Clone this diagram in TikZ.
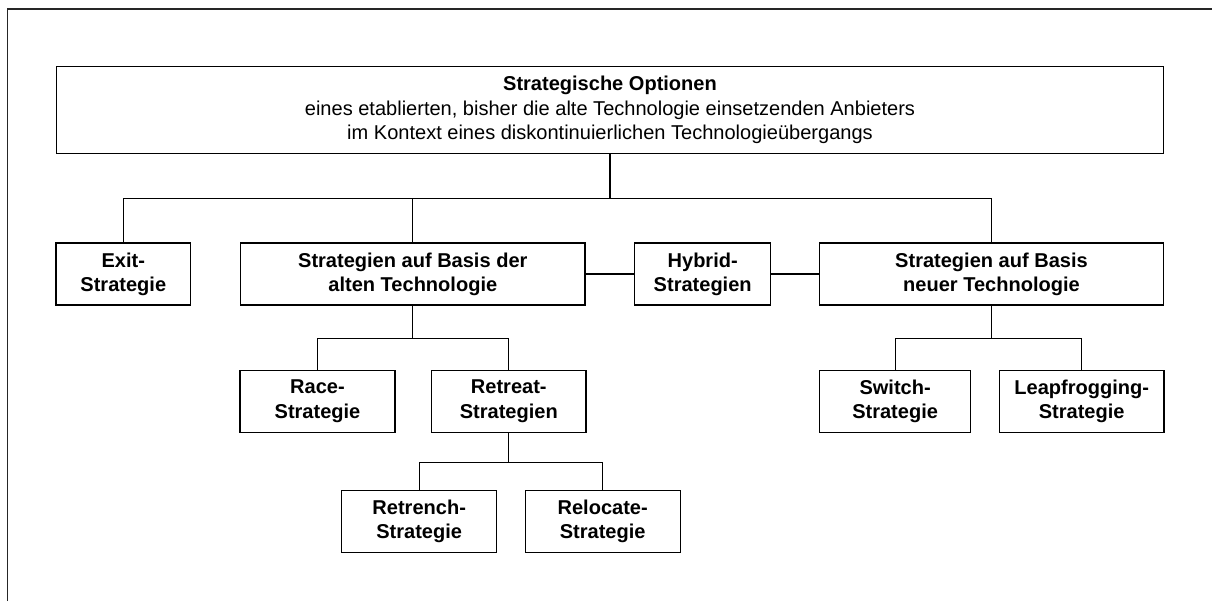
\documentclass[tikz,border=0pt]{standalone}
\usepackage{fontspec}
\setmainfont{Liberation Sans}
\begin{document}
\begin{tikzpicture}[
  x=0.02cm, y=-0.02cm,
  opt/.style={rectangle, draw, line width=0.7pt, inner sep=0pt, minimum height=1.24cm, align=center, font=\fontsize{11.4}{13.8}\selectfont\bfseries},
  root/.style={opt, minimum width=22.15cm, minimum height=1.73cm, font=\fontsize{11.4}{14}\selectfont},
  link/.style={line width=0.6pt},
  frame/.style={line width=0.9pt, black!85},
]
\useasboundingbox (0,0) rectangle (1212,601);

% ══ Frame (cut off at right and bottom) ══
\draw[frame] (7.5,601) -- (7.5,9) -- (1212,9);

% ══ Row positions ══
\def\ya{274}
\def\yb{401.3}
\def\yc{521.4}

% ══ Root ══
\node[root] (opt) at (610,110) {\textbf{Strategische Optionen}\\
  eines etablierten, bisher die alte Technologie einsetzenden Anbieters\\
  im Kontext eines diskontinuierlichen Technologieübergangs};

% ══ First level ══
\node[opt, minimum width=2.69cm] (exit) at (123.3,\ya) {Exit-\\Strategie};
\node[opt, minimum width=6.89cm] (alt) at (412.8,\ya) {Strategien auf Basis der\\alten Technologie};
\node[opt, minimum width=2.72cm] (hyb) at (702.7,\ya) {Hybrid-\\Strategien};
\node[opt, minimum width=6.89cm] (neu) at (991.5,\ya) {Strategien auf Basis\\neuer Technologie};

% ══ Second level ══
\node[opt, minimum width=3.1cm] (race) at (317.5,\yb) {Race-\\Strategie};
\node[opt, minimum width=3.09cm] (retreat) at (508.8,\yb) {Retreat-\\Strategien};
\node[opt, minimum width=3.03cm] (switch) at (895.1,\yb) {Switch-\\Strategie};
\node[opt, minimum width=3.29cm] (leap) at (1081.7,\yb) {Leapfrogging-\\Strategie};

% ══ Third level ══
\node[opt, minimum width=3.1cm] (retrench) at (419.2,\yc) {Retrench-\\Strategie};
\node[opt, minimum width=3.1cm] (relocate) at (602.7,\yc) {Relocate-\\Strategie};

% ══ Tree links ══
\draw[link] (opt.south) -- ++(0,45) coordinate (j0);
\draw[link] (j0) -| (exit.north);
\draw[link] (j0) -| (alt.north);
\draw[link] (j0) -| (neu.north);

\draw[link] (alt.east) -- (hyb.west);
\draw[link] (hyb.east) -- (neu.west);

\draw[link] (alt.south) -- ++(0,33.3) coordinate (j1);
\draw[link] (j1) -| (race.north);
\draw[link] (j1) -| (retreat.north);

\draw[link] (neu.south) -- ++(0,33.3) coordinate (j2);
\draw[link] (j2) -| (switch.north);
\draw[link] (j2) -| (leap.north);

\draw[link] (retreat.south) -- ++(0,29.4) coordinate (j3);
\draw[link] (j3) -| (retrench.north);
\draw[link] (j3) -| (relocate.north);

\end{tikzpicture}
\end{document}
